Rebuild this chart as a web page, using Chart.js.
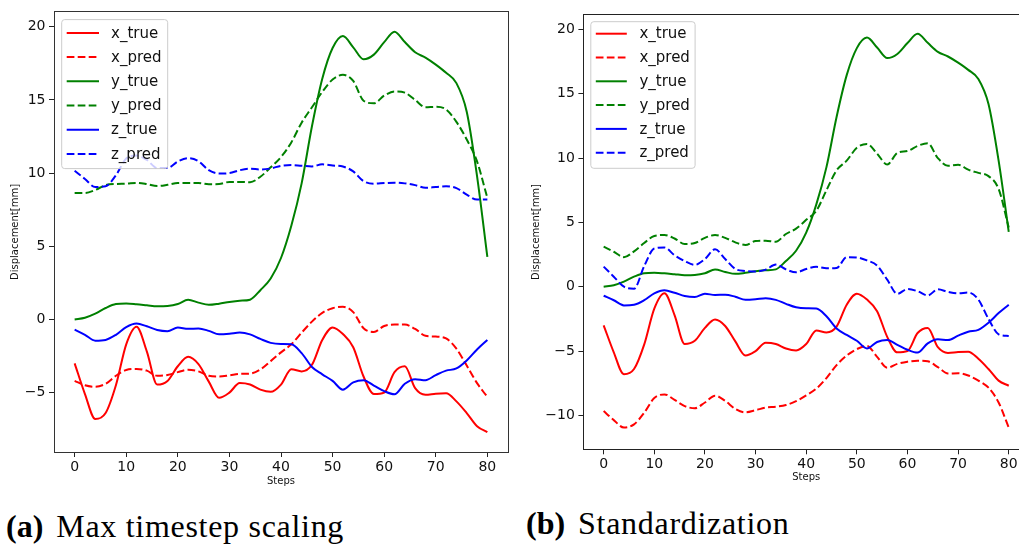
<!DOCTYPE html>
<html>
<head>
<meta charset="utf-8">
<script src="https://cdn.jsdelivr.net/npm/chart.js@4.4.1/dist/chart.umd.min.js"></script>
<style>
  html, body { margin: 0; padding: 0; overflow: hidden; background: #fff; width: 1019px; height: 548px; }
  canvas { position: absolute; top: 0; }
  #chartA { left: 0; filter: blur(0.3px); }
  #chartB { left: 510px; }
  .cap { position: absolute; font-family: "Liberation Serif", "DejaVu Serif", serif; font-size: 32px;
         line-height: 32px; letter-spacing: 0.7px; color: #000; white-space: nowrap; }
  .cap b { letter-spacing: 0; margin-right: 13px; }
</style>
</head>
<body>
<canvas id="chartA" width="520" height="500"></canvas>
<canvas id="chartB" width="525" height="500"></canvas>
<div class="cap" style="left:6px; top:510px;"><b>(a)</b>Max timestep scaling</div>
<div class="cap" style="left:526px; top:507px;"><b>(b)</b>Standardization</div>

<script>
// ---- data ----
const steps = [0, 2, 4, 6, 8, 10, 12, 14, 16, 18, 20, 22, 24, 26, 28, 30, 32, 34, 36, 38, 40,
               42, 44, 46, 48, 50, 52, 54, 56, 58, 60, 62, 64, 66, 68, 70, 72, 74, 76, 78, 80];

// ground truth (shared by both panels)
const xTrue = [-3.0, -5.1, -6.8, -6.4, -4.5, -1.7, -0.5, -2.2, -4.45, -4.2, -3.2, -2.55, -3.05, -4.25, -5.35,
               -5.0, -4.35, -4.45, -4.8, -4.95, -4.45, -3.4, -3.55, -3.1, -1.4, -0.55, -1.0, -1.9, -3.9, -5.1,
               -5.0, -3.6, -3.2, -4.7, -5.15, -5.08, -5.05, -5.6, -6.4, -7.3, -7.7];
const yTrue = [0.0, 0.12, 0.4, 0.78, 1.05, 1.09, 1.04, 0.97, 0.9, 0.92, 1.05, 1.34, 1.15, 1.0, 1.08,
               1.2, 1.28, 1.35, 2.0, 2.8, 4.2, 6.4, 9.3, 13.2, 16.45, 18.55, 19.37, 18.6, 17.78, 18.1,
               18.95, 19.67, 18.96, 18.26, 17.9, 17.42, 16.86, 16.15, 14.2, 9.8, 4.27];
const zTrue = [-0.7, -1.05, -1.45, -1.4, -1.05, -0.52, -0.28, -0.47, -0.72, -0.8, -0.55, -0.64, -0.62, -0.78, -1.02,
               -0.98, -0.9, -1.02, -1.33, -1.6, -1.68, -1.7, -2.3, -3.25, -3.75, -4.2, -4.8, -4.3, -4.15, -4.52,
               -4.9, -5.12, -4.4, -4.08, -4.15, -3.8, -3.5, -3.35, -2.8, -2.05, -1.4];

// (a) max timestep scaling predictions
const xPredA = [-4.2, -4.5, -4.6, -4.4, -3.85, -3.45, -3.38, -3.5, -3.85, -3.8, -3.6, -3.43, -3.55, -3.85, -3.9,
                -3.82, -3.72, -3.7, -3.42, -2.85, -2.25, -1.7, -0.9, -0.15, 0.45, 0.77, 0.86, 0.5, -0.6, -0.85,
                -0.45, -0.35, -0.35, -0.65, -1.12, -1.17, -1.3, -2.0, -3.15, -4.35, -5.3];
const yPredA = [8.64, 8.64, 8.85, 9.18, 9.26, 9.28, 9.33, 9.25, 9.12, 9.2, 9.32, 9.32, 9.32, 9.24, 9.25,
                9.4, 9.4, 9.38, 9.75, 10.4, 11.1, 12.1, 13.45, 14.5, 15.55, 16.4, 16.72, 16.3, 14.95, 14.77,
                15.3, 15.58, 15.5, 15.0, 14.5, 14.53, 14.35, 13.5, 12.3, 10.8, 8.3];
const zPredA = [10.16, 9.6, 9.05, 9.1, 9.85, 11.0, 11.2, 10.9, 10.35, 10.35, 10.8, 11.02, 10.82, 10.2, 9.97,
                10.0, 10.2, 10.3, 10.25, 10.32, 10.5, 10.55, 10.5, 10.46, 10.6, 10.52, 10.45, 10.12, 9.45, 9.28,
                9.32, 9.35, 9.3, 9.18, 9.0, 9.05, 9.1, 8.98, 8.53, 8.19, 8.19];

// (b) standardization predictions
const xPredB = [-9.67, -10.37, -10.95, -10.7, -9.8, -8.65, -8.37, -8.8, -9.28, -9.45, -9.0, -8.47, -8.88, -9.5, -9.77,
                -9.6, -9.4, -9.33, -9.2, -8.9, -8.45, -7.92, -7.1, -6.1, -5.35, -4.85, -4.6, -5.45, -6.3, -6.0,
                -5.83, -5.75, -5.8, -6.25, -6.75, -6.73, -6.9, -7.3, -7.85, -9.0, -10.95];
const yPredB = [3.11, 2.72, 2.3, 2.75, 3.4, 3.95, 4.02, 3.75, 3.32, 3.4, 3.8, 4.02, 3.8, 3.45, 3.25,
                3.55, 3.58, 3.5, 4.1, 4.52, 5.2, 5.9, 7.5, 9.05, 9.8, 10.8, 11.1, 10.35, 9.5, 10.4,
                10.55, 10.95, 11.15, 10.0, 9.4, 9.48, 9.1, 8.85, 8.6, 7.6, 4.6];
const zPredB = [1.56, 0.78, 0.0, -0.15, 1.6, 2.97, 3.05, 2.45, 2.0, 1.7, 2.15, 2.91, 2.15, 1.38, 1.22,
                1.18, 1.33, 1.72, 1.35, 1.12, 1.38, 1.55, 1.43, 1.45, 2.3, 2.28, 2.05, 1.65, 0.55, -0.55,
                -0.18, -0.35, -0.68, -0.2, -0.4, -0.52, -0.45, -1.0, -2.5, -3.7, -3.83];

const seriesNames = ['x_true', 'x_pred', 'y_true', 'y_pred', 'z_true', 'z_pred'];
const xTicks = [0, 10, 20, 30, 40, 50, 60, 70, 80];
const yTicksA = [-5, 0, 5, 10, 15, 20];
const yTicksB = [-10, -5, 0, 5, 10, 15, 20];
const xTitle = 'Steps';
const yTitle = 'Displacement[mm]';

// ---- styling ----
const FONT = "'DejaVu Sans', 'Liberation Sans', sans-serif";
const INK = '#111';
const lineColors = ['#ff0000', '#ff0000', '#008000', '#008000', '#0000ff', '#0000ff'];
const lineDashes = [[], [7.7, 3.3], [], [7.7, 3.3], [], [7.7, 3.3]];

Chart.defaults.font.family = FONT;
Chart.defaults.color = INK;

function fmtTick(v) {
  return v < 0 ? '\u2212' + Math.abs(v) : String(v);
}

// axes frame drawn over the lines, like spines
const framePlugin = {
  id: 'frame',
  afterDatasetsDraw(chart, args, o) {
    const { left, top, right, bottom } = chart.chartArea;
    const ctx = chart.ctx;
    ctx.save();
    ctx.strokeStyle = o.color;
    ctx.lineWidth = 1;
    ctx.setLineDash([]);
    const l = Math.floor(left) + 0.5, t = Math.floor(top) + 0.5;
    const r = Math.floor(right) + 0.5, b = Math.floor(bottom) + 0.5;
    ctx.strokeRect(l, t, r - l, b - t);
    ctx.restore();
  }
};

// framed legend in the upper-left corner of the plot area
const boxLegendPlugin = {
  id: 'boxLegend',
  afterDatasetsDraw(chart, args, o) {
    const ca = chart.chartArea;
    const ctx = chart.ctx;
    const x0 = ca.left + o.offsetX, y0 = ca.top + o.offsetY;
    const w = o.width, h = o.height, r = 3;
    ctx.save();
    ctx.beginPath();
    ctx.moveTo(x0 + r, y0);
    ctx.lineTo(x0 + w - r, y0);
    ctx.arcTo(x0 + w, y0, x0 + w, y0 + r, r);
    ctx.lineTo(x0 + w, y0 + h - r);
    ctx.arcTo(x0 + w, y0 + h, x0 + w - r, y0 + h, r);
    ctx.lineTo(x0 + r, y0 + h);
    ctx.arcTo(x0, y0 + h, x0, y0 + h - r, r);
    ctx.lineTo(x0, y0 + r);
    ctx.arcTo(x0, y0, x0 + r, y0, r);
    ctx.closePath();
    ctx.fillStyle = 'rgba(255,255,255,0.8)';
    ctx.fill();
    ctx.strokeStyle = '#cccccc';
    ctx.lineWidth = 1;
    ctx.stroke();

    ctx.font = o.fontSize + 'px ' + FONT;
    ctx.textBaseline = 'alphabetic';
    ctx.textAlign = 'left';
    chart.data.datasets.forEach((ds, i) => {
      const y = y0 + o.firstRow + i * o.rowGap;
      ctx.strokeStyle = ds.borderColor;
      ctx.lineWidth = ds.borderWidth;
      ctx.setLineDash(ds.borderDash || []);
      ctx.lineCap = 'butt';
      ctx.beginPath();
      ctx.moveTo(x0 + o.sampleStart, y);
      ctx.lineTo(x0 + o.sampleEnd, y);
      ctx.stroke();
      ctx.setLineDash([]);
      ctx.fillStyle = INK;
      ctx.fillText(ds.label, x0 + o.textX, y + o.textDrop);
    });
    ctx.restore();
  }
};

function makeDatasets(seriesList) {
  return seriesList.map((vals, i) => ({
    label: seriesNames[i],
    data: steps.map((s, k) => ({ x: s, y: vals[k] })),
    borderColor: lineColors[i],
    borderWidth: 2,
    borderDash: lineDashes[i],
    borderJoinStyle: 'round',
    pointRadius: 0,
    fill: false,
    cubicInterpolationMode: 'monotone',
    order: seriesList.length - i
  }));
}

function makeChart(id, seriesList, yTicks, L) {
  return new Chart(document.getElementById(id), {
    type: 'line',
    data: { datasets: makeDatasets(seriesList) },
    plugins: [framePlugin, boxLegendPlugin],
    options: {
      responsive: false,
      animation: false,
      events: [],
      layout: { padding: { top: L.padTop, right: L.padRight, bottom: 0, left: 0 } },
      scales: {
        x: {
          type: 'linear', min: L.xMin, max: L.xMax,
          afterFit: s => { s.height = L.xAxisHeight; },
          afterBuildTicks: s => { s.ticks = xTicks.map(v => ({ value: v })); },
          ticks: { font: { size: 14 }, color: INK, padding: L.xTickPad, maxRotation: 0, autoSkip: false,
                   callback: v => fmtTick(v) },
          grid: { display: true, drawOnChartArea: false, drawTicks: true, tickLength: 5, color: '#222', lineWidth: 1 },
          border: { display: false },
          title: { display: true, text: xTitle, font: { size: 10 }, color: INK, padding: { bottom: L.xTitlePad, top: 0 } }
        },
        y: {
          type: 'linear', min: L.yMin, max: L.yMax,
          afterFit: s => { s.width = L.yAxisWidth; },
          afterBuildTicks: s => { s.ticks = yTicks.map(v => ({ value: v })); },
          ticks: { font: { size: 14 }, color: INK, padding: 3.5, autoSkip: false, callback: v => fmtTick(v) },
          grid: { display: true, drawOnChartArea: false, drawTicks: true, tickLength: 5, color: '#222', lineWidth: 1 },
          border: { display: false },
          title: { display: true, text: yTitle, font: { size: 10 }, color: INK, padding: { top: L.yTitlePad, bottom: 0 } }
        }
      },
      plugins: {
        legend: { display: false },
        tooltip: { enabled: false },
        frame: { color: L.frameColor },
        boxLegend: L.legend
      }
    }
  });
}

makeChart('chartA', [xTrue, xPredA, yTrue, yPredA, zTrue, zPredA], yTicksA, {
  padTop: 9, padRight: 12, xAxisHeight: 48, yAxisWidth: 54,
  xMin: -4, xMax: 84, yMin: -9.06, yMax: 21.02,
  xTickPad: 2, xTitlePad: 13, yTitlePad: 9.5, frameColor: '#333',
  legend: { offsetX: 7.7, offsetY: 7.7, width: 106, height: 149, firstRow: 13.3, rowGap: 24.2,
            sampleStart: 5, sampleEnd: 37.3, textX: 49.3, textDrop: 4.6, fontSize: 15 }
});

makeChart('chartB', [xTrue, xPredB, yTrue, yPredB, zTrue, zPredB], yTicksB, {
  padTop: 14.7, padRight: 6, xAxisHeight: 50.7, yAxisWidth: 73.4,
  xMin: -4, xMax: 84, yMin: -12.64, yMax: 21.15,
  xTickPad: 2, xTitlePad: 16.5, yTitlePad: 20.7, frameColor: '#222',
  legend: { offsetX: 7.4, offsetY: 7, width: 104.3, height: 146.6, firstRow: 12, rowGap: 23.8,
            sampleStart: 5, sampleEnd: 36, textX: 48.6, textDrop: 4.6, fontSize: 15 }
});
</script>
</body>
</html>
